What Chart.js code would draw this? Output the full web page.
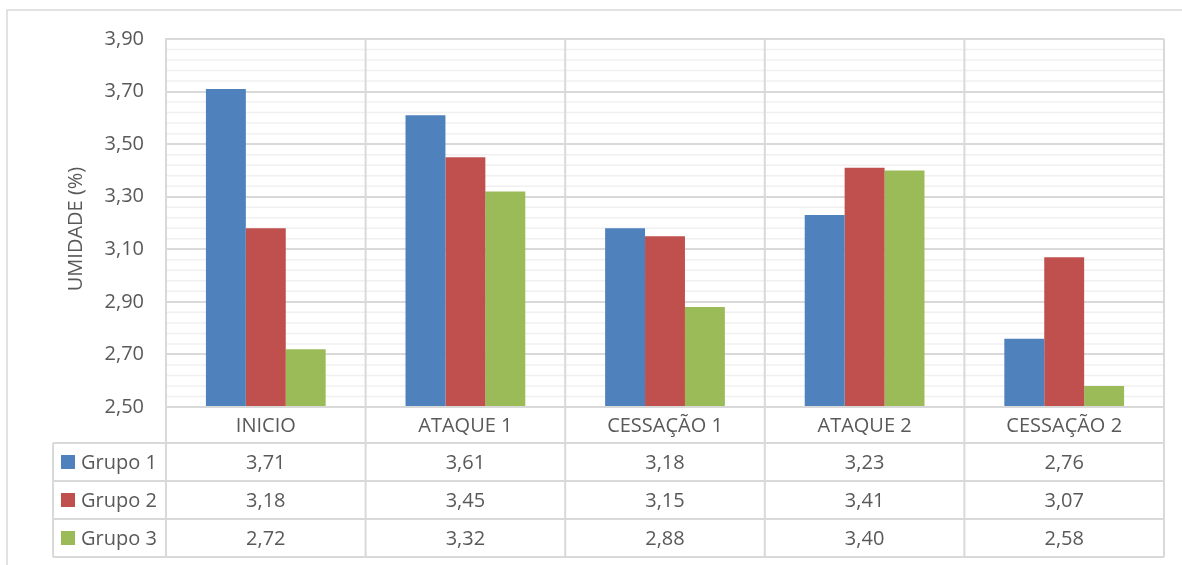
<!DOCTYPE html>
<html>
<head>
<meta charset="utf-8">
<script src="https://cdn.jsdelivr.net/npm/chart.js@4/dist/chart.umd.min.js"></script>
<style>
  html, body { margin: 0; padding: 0; background: #fff; }
  #wrap { width: 1182px; height: 565px; position: relative; }
</style>
</head>
<body>
<div id="wrap"><canvas id="chart" width="1182" height="565"></canvas></div>
<script>
// Umidade por fase e grupo
const fases = ['INICIO', 'ATAQUE 1', 'CESSAÇÃO 1', 'ATAQUE 2', 'CESSAÇÃO 2'];
const grupo1 = [3.71, 3.61, 3.18, 3.23, 2.76];
const grupo2 = [3.18, 3.45, 3.15, 3.41, 3.07];
const grupo3 = [2.72, 3.32, 2.88, 3.40, 2.58];
const grupos = ['Grupo 1', 'Grupo 2', 'Grupo 3'];
const cores = ['#4F81BD', '#C0504D', '#9BBB59'];

const yMin = 2.5, yMax = 3.9, yStep = 0.2, yMinorStep = 0.04;
const textColor = '#595959';
const lineColor = '#D9D9D9';
const minorColor = '#F0F0F0';
const fontFamily = '"Open Sans", "Liberation Sans", sans-serif';

const fmt = v => v.toFixed(2).replace('.', ',');

// Table rows under the plot: category label row + one row per series
const rowTop = 407, rowH = [36, 38, 38, 38];
const legendLeft = 53;

const tablePlugin = {
    id: 'dataTable',
    beforeDraw(chart) {
        const ctx = chart.ctx;
        ctx.save();
        // outer chart frame
        ctx.strokeStyle = lineColor;
        ctx.lineWidth = 1.5;
        ctx.beginPath();
        ctx.moveTo(7, 565);
        ctx.lineTo(7, 10);
        ctx.lineTo(1182, 10);
        ctx.stroke();
        ctx.restore();
    },
    beforeDatasetsDraw(chart) {
        // minor horizontal gridlines
        const ctx = chart.ctx;
        const y = chart.scales.y;
        const area = chart.chartArea;
        ctx.save();
        ctx.strokeStyle = minorColor;
        ctx.lineWidth = 1.5;
        for (let v = yMin + yMinorStep; v < yMax - 1e-6; v += yMinorStep) {
            const r = Math.round((v - yMin) / yStep * 1000) / 1000;
            if (Math.abs(r - Math.round(r)) < 1e-6) continue;
            const py = y.getPixelForValue(v);
            ctx.beginPath();
            ctx.moveTo(area.left, py);
            ctx.lineTo(area.right, py);
            ctx.stroke();
        }
        ctx.restore();
    },
    afterDraw(chart) {
        const ctx = chart.ctx;
        const x = chart.scales.x;
        const area = chart.chartArea;
        const left = area.left, right = area.right;
        const bottom = rowTop + rowH.reduce((a, b) => a + b, 0);

        ctx.save();
        ctx.strokeStyle = lineColor;
        ctx.lineWidth = 2;

        // horizontal table lines
        let yy = rowTop;
        ctx.beginPath();
        ctx.moveTo(left, yy);
        ctx.lineTo(right, yy);
        for (let i = 0; i < rowH.length; i++) {
            yy += rowH[i];
            ctx.moveTo(legendLeft, yy);
            ctx.lineTo(right, yy);
        }
        // vertical lines at category boundaries
        const half = (x.getPixelForValue(1) - x.getPixelForValue(0)) / 2;
        for (let i = 0; i <= fases.length; i++) {
            const px = i < fases.length ? x.getPixelForValue(i) - half : x.getPixelForValue(fases.length - 1) + half;
            ctx.moveTo(px, area.top);
            ctx.lineTo(px, bottom);
        }
        ctx.moveTo(legendLeft, rowTop + rowH[0]);
        ctx.lineTo(legendLeft, bottom);
        ctx.stroke();

        // category labels
        ctx.fillStyle = textColor;
        ctx.font = '20px ' + fontFamily;
        ctx.textAlign = 'center';
        ctx.textBaseline = 'middle';
        fases.forEach((f, i) => {
            ctx.fillText(f, x.getPixelForValue(i), rowTop + rowH[0] / 2 + 1);
        });

        // series rows
        const series = [grupo1, grupo2, grupo3];
        let top = rowTop + rowH[0];
        series.forEach((vals, s) => {
            const cy = top + rowH[s + 1] / 2;
            ctx.fillStyle = cores[s];
            ctx.fillRect(61, cy - 7, 14, 14);
            ctx.fillStyle = textColor;
            ctx.textAlign = 'left';
            ctx.fillText(grupos[s], 81, cy + 1);
            ctx.textAlign = 'center';
            vals.forEach((v, i) => {
                ctx.fillText(fmt(v), x.getPixelForValue(i), cy + 1);
            });
            top += rowH[s + 1];
        });

        // axis title
        ctx.translate(76, 229);
        ctx.rotate(-Math.PI / 2);
        ctx.textAlign = 'center';
        ctx.fillText('UMIDADE (%)', 0, 0);
        ctx.restore();
    }
};

new Chart(document.getElementById('chart'), {
    type: 'bar',
    data: {
        labels: fases,
        datasets: [
            { label: grupos[0], data: grupo1, backgroundColor: cores[0] },
            { label: grupos[1], data: grupo2, backgroundColor: cores[1] },
            { label: grupos[2], data: grupo3, backgroundColor: cores[2] }
        ]
    },
    options: {
        responsive: false,
        animation: false,
        devicePixelRatio: 1,
        layout: { padding: { left: 0, top: 39, right: 18, bottom: 158 } },
        datasets: { bar: { categoryPercentage: 0.6, barPercentage: 1.0, borderWidth: 0 } },
        plugins: {
            legend: { display: false },
            tooltip: { enabled: false }
        },
        scales: {
            x: {
                grid: { display: false, offset: true },
                ticks: { display: false },
                border: { display: false },
                afterFit: s => { s.height = 0; }
            },
            y: {
                min: yMin,
                max: yMax,
                afterFit: s => { s.width = 166; },
                grid: { color: lineColor, lineWidth: 2, drawTicks: false },
                border: { display: true, color: lineColor, width: 2 },
                ticks: {
                    stepSize: yStep,
                    padding: 22,
                    color: textColor,
                    font: { size: 20, family: fontFamily },
                    callback: v => fmt(v)
                }
            }
        }
    },
    plugins: [tablePlugin]
});
</script>
</body>
</html>
